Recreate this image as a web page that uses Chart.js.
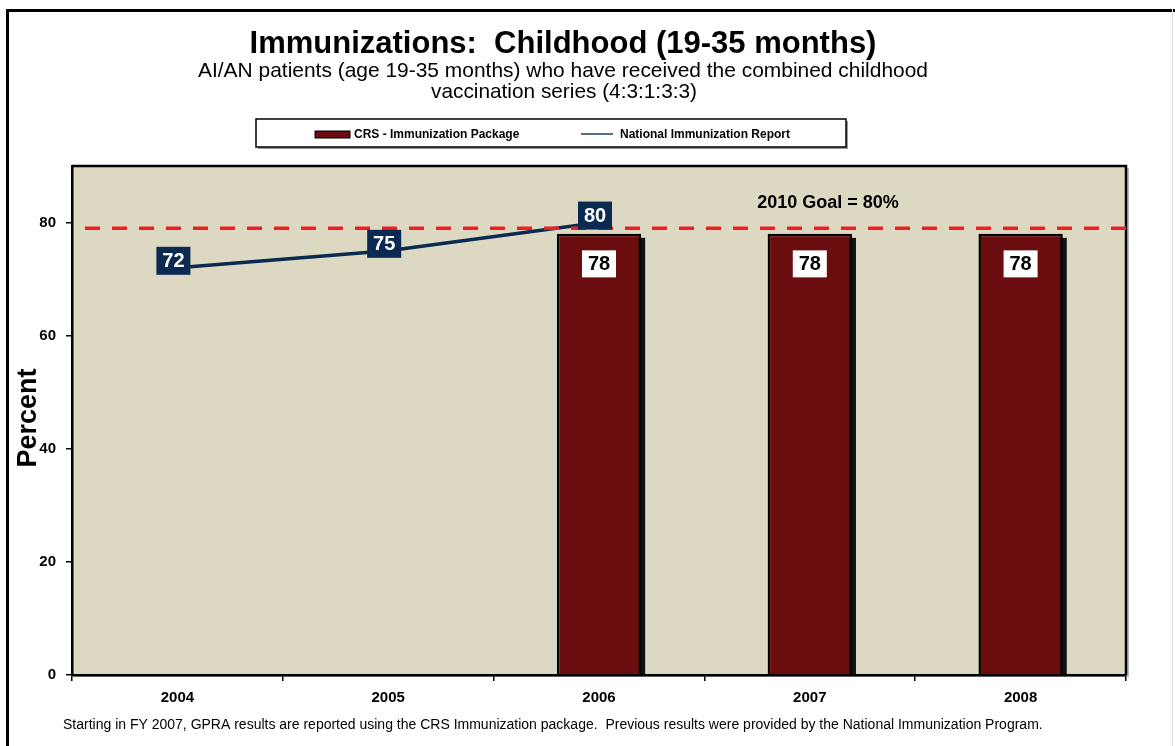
<!DOCTYPE html>
<html>
<head>
<meta charset="utf-8">
<script src="https://cdn.jsdelivr.net/npm/chart.js@4.4.1/dist/chart.umd.min.js"></script>
<style>
html,body{margin:0;padding:0;background:#fff;}
#wrap{width:1175px;height:746px;position:relative;}
</style>
</head>
<body>
<div id="wrap"><canvas id="c" width="1175" height="746"></canvas></div>
<script>
// ---- data ----
const categories = ['2004', '2005', '2006', '2007', '2008'];
const crsValues = [null, null, 78, 78, 78];
const nationalValues = [72, 75, 80, null, null];
const yTicks = [0, 20, 40, 60, 80];
const goalValue = 79;
const goalLabel = '2010 Goal = 80%';
const titleText = 'Immunizations:  Childhood (19-35 months)';
const subtitleLines = ['AI/AN patients (age 19-35 months) who have received the combined childhood', 'vaccination series (4:3:1:3:3)'];
const yAxisTitle = 'Percent';
const footnote = 'Starting in FY 2007, GPRA results are reported using the CRS Immunization package.  Previous results were provided by the National Immunization Program.';
const seriesNames = ['CRS - Immunization Package', 'National Immunization Report'];

const BAR = '#6B0C0F';
const NAVY = '#0B2A52';
const PLOTBG = '#DCD8C1';
const FONT = '"Liberation Sans", Arial, sans-serif';

const decor = {
  id: 'decor',
  beforeDraw(chart) {
    const ctx = chart.ctx, a = chart.chartArea;
    ctx.save();
    ctx.fillStyle = '#fff';
    ctx.fillRect(0, 0, chart.width, chart.height);
    // outer frame
    ctx.fillStyle = '#000';
    ctx.fillRect(6, 9, chart.width - 6, 3);
    ctx.fillRect(6, 9, 3, chart.height - 9);
    ctx.fillStyle = '#ddd';
    ctx.fillRect(1172, 9, 1, chart.height - 9);
    // plot shadow + background
    ctx.fillStyle = '#bbb';
    ctx.fillRect(a.left + 2, a.top + 2, a.right - a.left + 1, a.bottom - a.top);
    ctx.fillStyle = PLOTBG;
    ctx.fillRect(a.left, a.top, a.right - a.left, a.bottom - a.top);
    ctx.restore();
  },
  beforeDatasetsDraw(chart) {
    const ctx = chart.ctx, a = chart.chartArea;
    ctx.save();
    // plot border top/right
    ctx.strokeStyle = '#000';
    ctx.lineWidth = 2.5;
    ctx.beginPath();
    ctx.moveTo(a.left, a.top);
    ctx.lineTo(a.right, a.top);
    ctx.lineTo(a.right, a.bottom);
    ctx.stroke();
    // bar shadows
    const meta = chart.getDatasetMeta(0);
    ctx.fillStyle = '#111';
    meta.data.forEach((el, i) => {
      if (crsValues[i] == null) return;
      const w = el.width;
      ctx.fillRect(el.x - w / 2 + 4, el.y + 4, w, el.base - el.y - 4);
    });
    ctx.restore();
  },
  afterDatasetsDraw(chart) {
    const ctx = chart.ctx, a = chart.chartArea;
    const ys = chart.scales.y;
    ctx.save();
    // goal line
    const gy = ys.getPixelForValue(goalValue);
    ctx.strokeStyle = '#F01E23';
    ctx.lineWidth = 3.5;
    ctx.setLineDash([15, 12]);
    ctx.beginPath();
    ctx.moveTo(a.left + 13, gy);
    ctx.lineTo(a.right + 6, gy);
    ctx.stroke();
    ctx.setLineDash([]);
    ctx.fillStyle = '#000';
    ctx.font = 'bold 18px ' + FONT;
    ctx.textAlign = 'center';
    ctx.textBaseline = 'middle';
    ctx.fillText(goalLabel, 828, gy - 25);

    // bar labels
    ctx.font = 'bold 20px ' + FONT;
    const bm = chart.getDatasetMeta(0);
    bm.data.forEach((el, i) => {
      const v = crsValues[i];
      if (v == null) return;
      const cy = el.y + 30;
      ctx.fillStyle = '#fff';
      ctx.fillRect(el.x - 17, cy - 13.5, 34, 27);
      ctx.fillStyle = '#000';
      ctx.fillText(String(v), el.x, cy + 1);
    });
    // line labels
    const lm = chart.getDatasetMeta(1);
    lm.data.forEach((el, i) => {
      const v = nationalValues[i];
      if (v == null) return;
      const cx = el.x - 4, cy = el.y - 7;
      ctx.fillStyle = NAVY;
      ctx.fillRect(cx - 17, cy - 14, 34, 28);
      ctx.fillStyle = '#fff';
      ctx.fillText(String(v), cx, cy + 1);
    });
    ctx.restore();
  },
  afterDraw(chart) {
    const ctx = chart.ctx;
    ctx.save();
    ctx.fillStyle = '#000';
    ctx.textAlign = 'center';
    ctx.textBaseline = 'middle';
    ctx.font = 'bold 31px ' + FONT;
    ctx.fillText(titleText, 563, 44, 632);
    ctx.font = '21px ' + FONT;
    ctx.fillText(subtitleLines[0], 563, 71, 730);
    ctx.fillText(subtitleLines[1], 564, 92, 266);
    // y title
    ctx.save();
    ctx.translate(29, 418);
    ctx.rotate(-Math.PI / 2);
    ctx.font = 'bold 27px ' + FONT;
    ctx.fillText(yAxisTitle, 0, 0);
    ctx.restore();
    // footnote
    ctx.font = '14px ' + FONT;
    ctx.textAlign = 'left';
    ctx.fillText(footnote, 63, 725, 995);
    // legend
    ctx.fillStyle = '#999';
    ctx.fillRect(258, 121, 590, 28);
    ctx.fillStyle = '#fff';
    ctx.fillRect(256, 119, 590, 28);
    ctx.strokeStyle = '#000';
    ctx.lineWidth = 1.5;
    ctx.strokeRect(256, 119, 590, 28);
    const ds = chart.data.datasets;
    ctx.fillStyle = ds[0].backgroundColor;
    ctx.fillRect(315, 131, 35, 7);
    ctx.strokeStyle = '#000';
    ctx.lineWidth = 1;
    ctx.strokeRect(315, 131, 35, 7);
    ctx.fillStyle = '#000';
    ctx.font = 'bold 12px ' + FONT;
    ctx.fillText(ds[0].label, 354, 134.5, 167);
    ctx.strokeStyle = '#1F3D6B';
    ctx.lineWidth = 1.5;
    ctx.beginPath();
    ctx.moveTo(581, 134);
    ctx.lineTo(613, 134);
    ctx.stroke();
    ctx.fillText(ds[1].label, 620, 134.5, 176);
    ctx.restore();
  }
};

new Chart(document.getElementById('c'), {
  data: {
    labels: categories,
    datasets: [
      {
        type: 'bar', label: seriesNames[0], data: crsValues,
        backgroundColor: BAR, borderColor: '#000', borderWidth: 2.5,
        barPercentage: 0.4, categoryPercentage: 1, order: 2
      },
      {
        type: 'line', label: seriesNames[1], data: nationalValues,
        borderColor: NAVY, borderWidth: 3.5, pointRadius: 0, tension: 0,
        spanGaps: false, order: 1
      }
    ]
  },
  options: {
    responsive: false,
    animation: false,
    devicePixelRatio: 1,
    layout: { padding: { top: 166, right: 49, bottom: 0, left: 0 } },
    plugins: { legend: { display: false }, title: { display: false }, tooltip: { enabled: false } },
    scales: {
      x: {
        type: 'category',
        offset: true,
        grid: { offset: true, drawOnChartArea: false, color: '#000', tickLength: 6, lineWidth: 1.5 },
        border: { display: true, color: '#000', width: 2.5 },
        ticks: { color: '#000', font: { family: FONT, size: 15, weight: 'bold' }, padding: 8, maxRotation: 0 },
        afterFit(s) { s.height = 71; }
      },
      y: {
        min: 0, max: 90,
        afterBuildTicks(s) { s.ticks = yTicks.map(v => ({ value: v })); },
        grid: { drawOnChartArea: false, color: '#000', tickLength: 6, lineWidth: 1.5 },
        border: { display: true, color: '#000', width: 2.5 },
        ticks: { color: '#000', font: { family: FONT, size: 15, weight: 'bold' }, padding: 10 },
        afterFit(s) { s.width = 72; }
      }
    }
  },
  plugins: [decor]
});
</script>
</body>
</html>
